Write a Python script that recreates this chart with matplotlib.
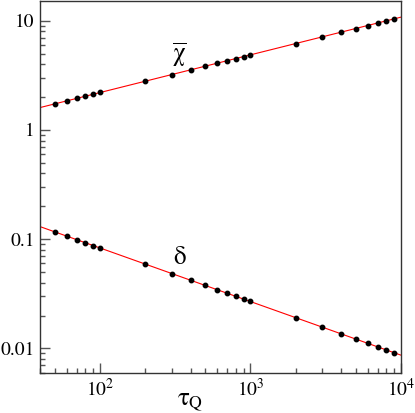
import matplotlib
matplotlib.use("Agg")
import matplotlib.pyplot as plt
from matplotlib.ticker import LogLocator, NullFormatter, FixedFormatter, FixedLocator
import numpy as np

plt.rcParams['font.family'] = ['STIXGeneral', 'DejaVu Serif']
plt.rcParams['mathtext.fontset'] = 'custom'
plt.rcParams['mathtext.rm'] = 'STIXGeneral'
plt.rcParams['mathtext.it'] = 'STIXGeneral'
plt.rcParams['mathtext.bf'] = 'STIXGeneral:bold'

# quench times
tau = [50, 60, 70, 80, 90, 100, 200, 300, 400, 500, 600, 700, 800, 900,
       1000, 2000, 3000, 4000, 5000, 6000, 7000, 8000, 9000]
# chi bar (upper series)
chi = [1.73, 1.84, 1.94, 2.03, 2.12, 2.20, 2.79, 3.21, 3.55, 3.83, 4.08, 4.30,
       4.50, 4.69, 4.87, 6.17, 7.10, 7.85, 8.47, 9.02, 9.52, 9.97, 10.38]
# delta (lower series)
delta = [0.1167, 0.1067, 0.0990, 0.0927, 0.0875, 0.0834, 0.0592, 0.0485, 0.0421,
         0.0378, 0.0345, 0.0320, 0.0300, 0.0283, 0.0270, 0.0191, 0.0157, 0.0136,
         0.0122, 0.0112, 0.0103, 0.0097, 0.0091]

ytick_vals = [0.01, 0.1, 1, 10]
ytick_labels = ["0.01", "0.1", "1", "10"]
xtick_vals = [100, 1000, 10000]
xtick_labels = [r"$10^{2}$", r"$10^{3}$", r"$10^{4}$"]

fig = plt.figure(figsize=(4.15, 4.13), dpi=100)
ax = fig.add_axes([0.0964, 0.0976, 0.8698, 0.8990])

xfit = np.array([40, 10000])
for y in [chi, delta]:
    p = np.polyfit(np.log10(tau), np.log10(y), 1)
    ax.plot(xfit, 10 ** np.polyval(p, np.log10(xfit)), color='red', lw=0.8, zorder=2)
    ax.plot(tau, y, 'o', color='black', ms=3.2, zorder=3)

ax.set_xscale('log')
ax.set_yscale('log')
ax.set_xlim(40, 10000)
ax.set_ylim(0.006, 15)

ax.xaxis.set_major_locator(FixedLocator(xtick_vals))
ax.xaxis.set_major_formatter(FixedFormatter(xtick_labels))
ax.xaxis.set_minor_locator(LogLocator(base=10, subs=np.arange(2, 10)))
ax.xaxis.set_minor_formatter(NullFormatter())
ax.yaxis.set_major_locator(FixedLocator(ytick_vals))
ax.yaxis.set_major_formatter(FixedFormatter(ytick_labels))
ax.yaxis.set_minor_locator(LogLocator(base=10, subs=np.arange(2, 10)))
ax.yaxis.set_minor_formatter(NullFormatter())

ax.tick_params(which='both', direction='in', top=False, right=False,
               color='#555555', labelsize=14)
ax.tick_params(which='major', length=7, width=1.0)
ax.tick_params(which='minor', length=3.5, width=1.0)
ax.tick_params(axis='y', pad=4)
ax.tick_params(axis='x', pad=4)
for s in ax.spines.values():
    s.set_linewidth(1.0)
    s.set_color('#333333')

ax.text(336, 4.9, r"$\overline{\chi}$", fontsize=18, ha='center', va='center')
ax.text(341, 0.0677, r"$\delta$", fontsize=18, ha='center', va='center')
ax.set_xlabel(r"$\tau_{Q}$", fontsize=18)
ax.xaxis.set_label_coords(0.415, -0.045)

fig.savefig("out.png", dpi=100)
